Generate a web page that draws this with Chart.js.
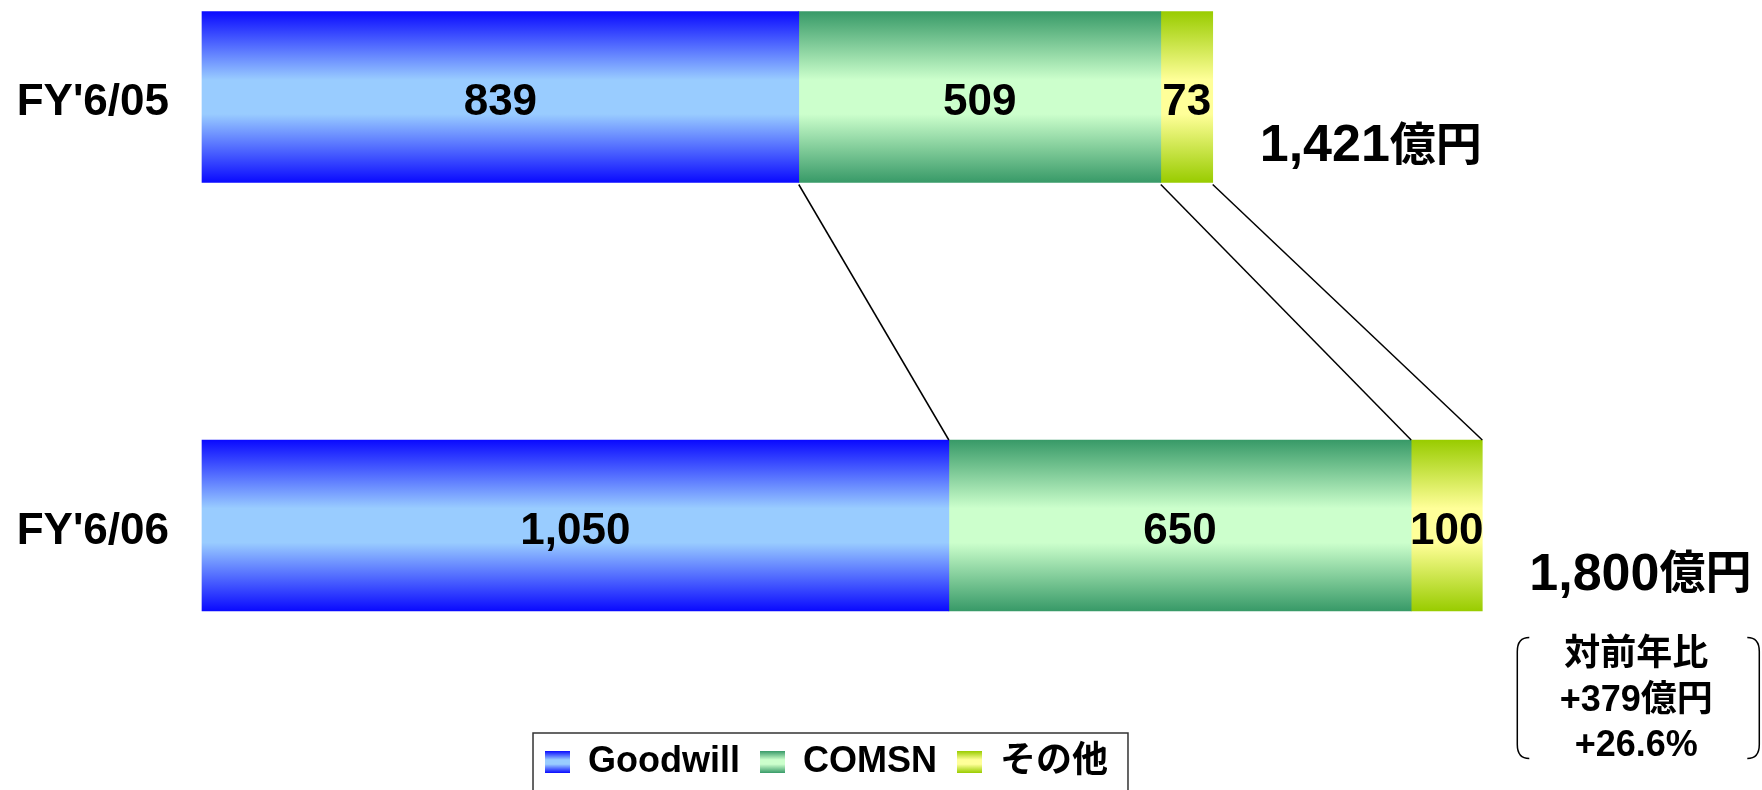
<!DOCTYPE html>
<html>
<head>
<meta charset="utf-8">
<script src="https://cdn.jsdelivr.net/npm/chart.js@4.4.0/dist/chart.umd.min.js"></script>
<style>
  html, body { margin: 0; padding: 0; background: #fff; }
  #wrap { width: 1762px; height: 790px; }
</style>
</head>
<body>
<div id="wrap"><canvas id="chart" width="1762" height="790"></canvas></div>
<script>
const categories = ["FY'6/05", "FY'6/06"];
const seriesNames = ["Goodwill", "COMSN", "その他"];
const goodwillValues = [839, 1050];
const comsnValues = [509, 650];
const otherValues = [73, 100];
const totalValues = [1421, 1800];
const yoyLines = ["対前年比", "+379億円", "+26.6%"];
const unitText = "億円";
const xMax = 2040;

const FONT = "'Liberation Sans', Arial, 'Noto Sans CJK JP', sans-serif";
const BAR_H = 171;

// [edge, centre] colour of each series' vertical gradient
const shades = [
  ["#0a0aff", "#99ccff"],
  ["#389a68", "#ccffcc"],
  ["#99cc00", "#ffff99"],
];

function addStops(g, pair) {
  g.addColorStop(0, pair[0]);
  g.addColorStop(0.4, pair[1]);
  g.addColorStop(0.6, pair[1]);
  g.addColorStop(1, pair[0]);
  return g;
}

function barFill(series) {
  return (c) => {
    if (c.type !== "data") return shades[series][0];
    const yc = c.chart.scales.y.getPixelForValue(c.dataIndex);
    const g = c.chart.ctx.createLinearGradient(0, yc - BAR_H / 2, 0, yc + BAR_H / 2);
    return addStops(g, shades[series]);
  };
}

function swatch(series) {
  const cv = document.createElement("canvas");
  cv.width = 25;
  cv.height = 22;
  const cx = cv.getContext("2d");
  cx.fillStyle = addStops(cx.createLinearGradient(0, 0, 0, 22), shades[series]);
  cx.fillRect(0, 0, 25, 22);
  return cv;
}
const swatches = [swatch(0), swatch(1), swatch(2)];

const fmt = (v) => Number(v).toLocaleString("en-US");

const overlay = {
  id: "overlay",
  afterDatasetsDraw(chart) {
    const ctx = chart.ctx;
    ctx.save();
    // connector lines between the two bars
    ctx.strokeStyle = "#000";
    ctx.lineWidth = 1.5;
    chart.data.datasets.forEach((ds, i) => {
      const els = chart.getDatasetMeta(i).data;
      ctx.beginPath();
      ctx.moveTo(els[0].x, els[0].y + els[0].height / 2 + 2);
      ctx.lineTo(els[1].x, els[1].y - els[1].height / 2);
      ctx.stroke();
    });
    // value labels
    ctx.fillStyle = "#000";
    ctx.font = "bold 44px " + FONT;
    ctx.textAlign = "center";
    ctx.textBaseline = "middle";
    chart.data.datasets.forEach((ds, i) => {
      chart.getDatasetMeta(i).data.forEach((el, j) => {
        const p = el.getCenterPoint();
        ctx.fillText(fmt(ds.data[j]), p.x, p.y + 6);
      });
    });
    ctx.restore();
  },
  afterDraw(chart) {
    const ctx = chart.ctx;
    ctx.save();
    ctx.fillStyle = "#000";
    ctx.textBaseline = "middle";
    ctx.textAlign = "left";
    const lastMeta = chart.getDatasetMeta(chart.data.datasets.length - 1);
    // totals
    lastMeta.data.forEach((el, j) => {
      const x = el.x + 47;
      const y = el.y + 50;
      ctx.font = "bold 52px " + FONT;
      const num = fmt(totalValues[j]);
      ctx.fillText(num, x, y);
      const w = ctx.measureText(num).width;
      ctx.font = "bold 46px " + FONT;
      ctx.fillText(unitText, x + w, y);
    });
    // year-on-year note with brackets
    const el = lastMeta.data[lastMeta.data.length - 1];
    const cx = el.x + 154;
    ctx.textAlign = "center";
    ctx.font = "bold 36px " + FONT;
    const offs = [130, 176, 221];
    yoyLines.forEach((t, k) => ctx.fillText(t, cx, el.y + offs[k]));
    const top = el.y + 112, bot = el.y + 233;
    const lx = cx - 119, rx = cx + 123;
    ctx.strokeStyle = "#000";
    ctx.lineWidth = 1.5;
    ctx.beginPath();
    ctx.moveTo(lx + 12, top);
    ctx.quadraticCurveTo(lx, top, lx, top + 14);
    ctx.lineTo(lx, bot - 14);
    ctx.quadraticCurveTo(lx, bot, lx + 12, bot);
    ctx.moveTo(rx - 12, top);
    ctx.quadraticCurveTo(rx, top, rx, top + 14);
    ctx.lineTo(rx, bot - 14);
    ctx.quadraticCurveTo(rx, bot, rx - 12, bot);
    ctx.stroke();
    // legend frame
    const hb = chart.legend.legendHitBoxes;
    if (hb && hb.length) {
      const left = Math.min(...hb.map((h) => h.left)) - 12;
      const right = Math.max(...hb.map((h) => h.left + h.width)) + 20;
      const t = hb[0].top - 11;
      ctx.strokeStyle = "#333";
      ctx.lineWidth = 1.5;
      ctx.strokeRect(left, t, right - left, chart.height - t + 10);
    }
    ctx.restore();
  },
};

new Chart(document.getElementById("chart"), {
  type: "bar",
  data: {
    labels: categories,
    datasets: [
      { label: seriesNames[0], data: goodwillValues, backgroundColor: barFill(0) },
      { label: seriesNames[1], data: comsnValues, backgroundColor: barFill(1) },
      { label: seriesNames[2], data: otherValues, backgroundColor: barFill(2) },
    ].map((d) => Object.assign(d, { barThickness: BAR_H, borderWidth: 0, clip: false })),
  },
  options: {
    indexAxis: "y",
    responsive: false,
    animation: false,
    layout: { padding: { left: 0, right: 109, top: 97, bottom: 0 } },
    scales: {
      x: {
        stacked: true,
        min: 0,
        max: xMax,
        grid: { display: false, drawTicks: false },
        border: { display: false },
        ticks: { display: false },
        afterFit: (s) => { s.height = 198.5; },
      },
      y: {
        stacked: true,
        offset: false,
        grid: { display: false, drawTicks: false },
        border: { display: false },
        ticks: {
          color: "#000",
          padding: 33,
          labelOffset: 6,
          font: { family: FONT, size: 44, weight: "bold" },
        },
        afterFit: (s) => { s.width = 202; },
      },
    },
    plugins: {
      tooltip: { enabled: false },
      legend: {
        position: "bottom",
        labels: {
          usePointStyle: true,
          boxWidth: 25,
          boxHeight: 22,
          padding: 20,
          color: "#000",
          font: { family: FONT, size: 36, weight: "bold" },
          generateLabels: () => seriesNames.map((name, i) => ({
            text: name,
            pointStyle: swatches[i],
            fillStyle: shades[i][0],
            strokeStyle: "transparent",
            lineWidth: 0,
            hidden: false,
            datasetIndex: i,
            fontColor: "#000",
          })),
        },
      },
    },
  },
  plugins: [overlay],
});
</script>
</body>
</html>
